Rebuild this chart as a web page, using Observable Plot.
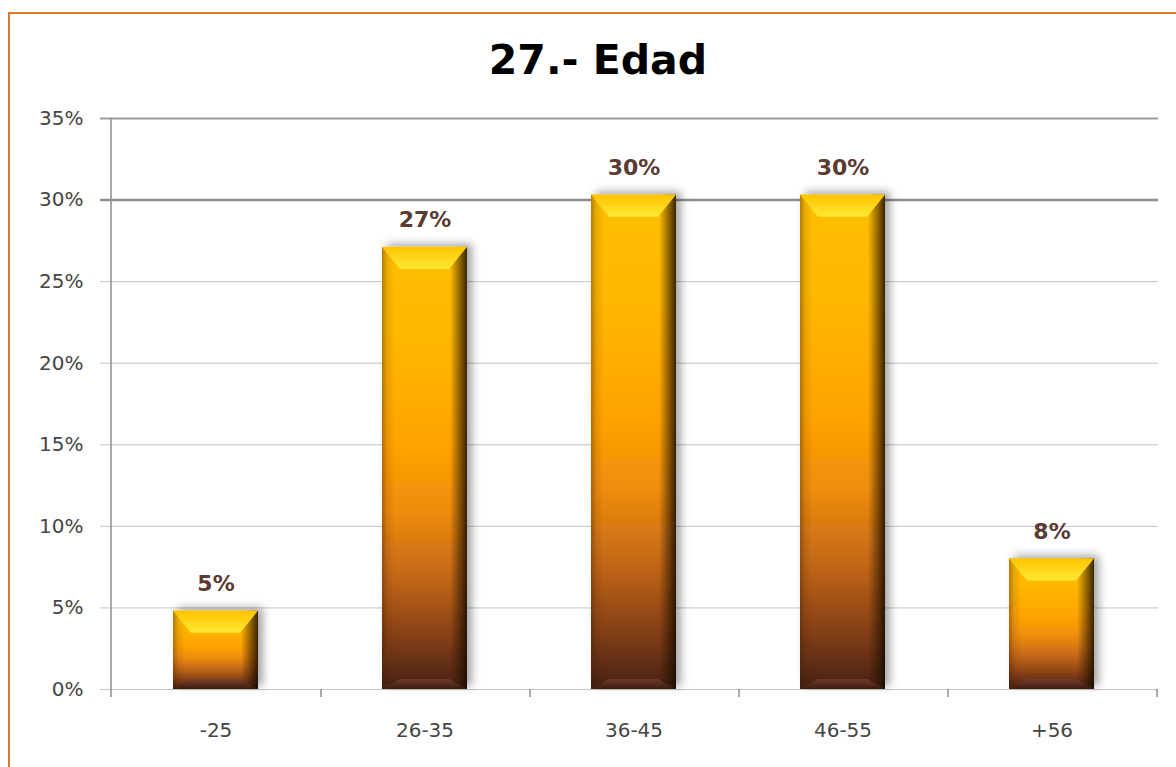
<!DOCTYPE html>
<html>
<head>
<meta charset="utf-8">
<script src="https://cdn.jsdelivr.net/npm/d3@7"></script>
<script src="https://cdn.jsdelivr.net/npm/@observablehq/plot@0.6"></script>
<style>
  html, body { margin: 0; padding: 0; background: #ffffff; overflow: hidden; width: 1176px; height: 767px; }
  #frame { position: absolute; left: 8px; top: 12px; width: 1400px; height: 900px;
           border-left: 2px solid #dc7b32; border-top: 2px solid #dc7b32; box-sizing: border-box; }
  #title { position: absolute; left: 10px; top: 40px; width: 1176px; text-align: center;
           font-family: "DejaVu Sans", sans-serif; font-weight: bold; font-size: 41px; line-height: 41px; color: #000; }
  #chart { position: absolute; left: 10px; top: 95px; }
</style>
</head>
<body>
<div id="frame"></div>
<div id="title">27.- Edad</div>
<div id="chart"></div>
<script>
const categories = ["-25", "26-35", "36-45", "46-55", "+56"];
const values = [4.8, 27.1, 30.3, 30.3, 8.0];
const labels = ["5%", "27%", "30%", "30%", "8%"];
const yTicks = [0, 5, 10, 15, 20, 25, 30, 35];

const data = categories.map((c, i) => ({cat: c, value: values[i], label: labels[i]}));

const W = 1166, H = 672, ML = 98, MR = 18, MT = 23, MB = 78;
const step = (W - ML - MR) / categories.length;

const plot = Plot.plot({
  width: W, height: H,
  marginLeft: ML, marginRight: MR, marginTop: MT, marginBottom: MB,
  style: {fontFamily: "DejaVu Sans, sans-serif", fontSize: "20px", color: "#454545", background: "transparent", overflow: "visible"},
  x: {domain: categories, paddingInner: 0.595, paddingOuter: 0.2976, label: null},
  y: {domain: [0, 35], label: null},
  marks: [
    Plot.ruleY(yTicks.filter(t => t < 30), {stroke: "#c4c4c4", strokeWidth: 1, insetLeft: -8}),
    Plot.ruleY(yTicks.filter(t => t === 30), {stroke: "#8e8e8e", strokeWidth: 2.5, insetLeft: -8}),
    Plot.ruleY(yTicks.filter(t => t === 35), {stroke: "#9c9c9c", strokeWidth: 2, insetLeft: -8}),
    Plot.ruleX(categories, {x: d => d, y1: 0, y2: 0, insetBottom: -8, dx: step / 2, stroke: "#8e8e8e", strokeWidth: 1.5}),
    Plot.ruleX([categories[0]], {x: d => d, y1: 35, y2: 0, insetBottom: -8, dx: -step / 2, stroke: "#8e8e8e", strokeWidth: 1.5}),
    Plot.barY(data, {x: "cat", y: "value", fill: "url(#barGrad)"}),
    Plot.text(data, {x: "cat", y: "value", text: "label", dy: -27, fontWeight: "bold", fontSize: 22, fill: "#5a3a32"}),
    Plot.axisY({ticks: yTicks, tickFormat: d => d + "%", tickSize: 0, tickPadding: 25, fontSize: 20, fill: "#454545"}),
    Plot.axisX({tickSize: 0, tickPadding: 33, fontSize: 20, fill: "#454545"})
  ]
});

const ns = "http://www.w3.org/2000/svg";
const defs = document.createElementNS(ns, "defs");
defs.innerHTML = `
  <linearGradient id="barGrad" x1="0" y1="0" x2="0" y2="1">
    <stop offset="0" stop-color="#ffbf00"/>
    <stop offset="0.2" stop-color="#ffb800"/>
    <stop offset="0.45" stop-color="#ffa300"/>
    <stop offset="0.6" stop-color="#ee8c0c"/>
    <stop offset="0.75" stop-color="#c26618"/>
    <stop offset="0.88" stop-color="#864018"/>
    <stop offset="1" stop-color="#452012"/>
  </linearGradient>
  <linearGradient id="sideGrad" x1="0" y1="0" x2="1" y2="0">
    <stop offset="0" stop-color="rgb(60,30,0)" stop-opacity="0.4"/>
    <stop offset="0.06" stop-color="rgb(60,30,0)" stop-opacity="0.12"/>
    <stop offset="0.15" stop-color="rgb(60,30,0)" stop-opacity="0"/>
    <stop offset="0.8" stop-color="rgb(40,20,0)" stop-opacity="0"/>
    <stop offset="0.9" stop-color="rgb(40,20,0)" stop-opacity="0.45"/>
    <stop offset="1" stop-color="rgb(20,10,0)" stop-opacity="0.85"/>
  </linearGradient>
  <linearGradient id="topGrad" x1="0" y1="0" x2="0" y2="1">
    <stop offset="0" stop-color="#ffc400"/>
    <stop offset="1" stop-color="#ffe834"/>
  </linearGradient>
  <linearGradient id="botGrad" x1="0" y1="0" x2="0" y2="1">
    <stop offset="0" stop-color="#7a4030"/>
    <stop offset="1" stop-color="#3a1a10"/>
  </linearGradient>
  <filter id="shadow" x="-20%" y="-20%" width="150%" height="140%">
    <feDropShadow dx="5" dy="-3" stdDeviation="4" flood-color="#000" flood-opacity="0.35"/>
  </filter>`;
plot.insertBefore(defs, plot.firstChild);

const barG = plot.querySelector('g[aria-label="bar"]');
if (barG) {
  barG.setAttribute("filter", "url(#shadow)");
  const over = document.createElementNS(ns, "g");
  const b = 18, bh = 22, bb = 10;
  barG.querySelectorAll("rect").forEach(r => {
    const x = +r.getAttribute("x"), y = +r.getAttribute("y");
    const w = +r.getAttribute("width"), h = +r.getAttribute("height");
    const side = document.createElementNS(ns, "rect");
    side.setAttribute("x", x); side.setAttribute("y", y);
    side.setAttribute("width", w); side.setAttribute("height", h);
    side.setAttribute("fill", "url(#sideGrad)");
    over.appendChild(side);
    const top = document.createElementNS(ns, "polygon");
    top.setAttribute("points", `${x},${y} ${x + w},${y} ${x + w - b},${y + bh} ${x + b},${y + bh}`);
    top.setAttribute("fill", "url(#topGrad)");
    over.appendChild(top);
    const bot = document.createElementNS(ns, "polygon");
    bot.setAttribute("points", `${x},${y + h} ${x + w},${y + h} ${x + w - b},${y + h - bb} ${x + b},${y + h - bb}`);
    bot.setAttribute("fill", "url(#botGrad)");
    bot.setAttribute("opacity", "0.8");
    over.appendChild(bot);
  });
  barG.parentNode.insertBefore(over, barG.nextSibling);
}

document.getElementById("chart").appendChild(plot);
</script>
</body>
</html>
